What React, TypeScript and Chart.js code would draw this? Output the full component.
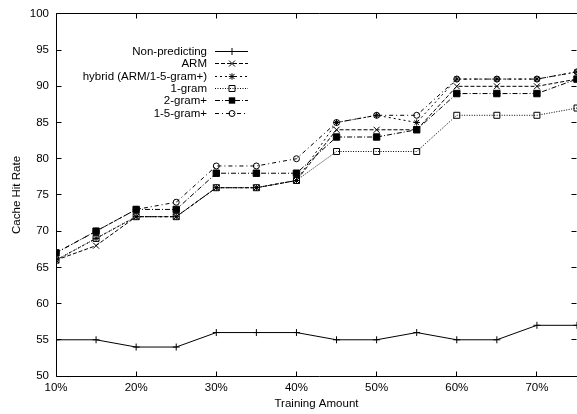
import React, { useEffect, useRef } from "react";
import { Chart, registerables } from "chart.js";

Chart.register(...registerables);

const trainingAmount = [10, 15, 20, 25, 30, 35, 40, 45, 50, 55, 60, 65, 70, 75];
const nonPredicting = [55, 55, 54, 54, 56, 56, 56, 55, 55, 56, 55, 55, 57, 57];
const arm = [66, 68, 72, 72, 76, 76, 77, 84, 84, 84, 90, 90, 90, 91];
const hybrid = [66, 69, 72, 72, 76, 76, 77, 85, 86, 85, 91, 91, 91, 92];
const oneGram = [66, 69, 72, 72, 76, 76, 77, 81, 81, 81, 86, 86, 86, 87];
const twoGramPlus = [67, 70, 73, 73, 78, 78, 78, 83, 83, 84, 89, 89, 89, 91];
const oneToFiveGramPlus = [67, 70, 73, 74, 79, 79, 80, 85, 86, 86, 91, 91, 91, 92];

const seriesNames = [
  "Non-predicting",
  "ARM",
  "hybrid (ARM/1-5-gram+)",
  "1-gram",
  "2-gram+",
  "1-5-gram+",
];
const seriesValues = [nonPredicting, arm, hybrid, oneGram, twoGramPlus, oneToFiveGramPlus];

const xTickValues = [10, 20, 30, 40, 50, 60, 70];
const yTickValues = [50, 55, 60, 65, 70, 75, 80, 85, 90, 95, 100];

const xTitle = "Training Amount";
const yTitle = "Cache Hit Rate";

const FONT = "'Liberation Sans', Arial, Helvetica, sans-serif";

type Sty = { dash: number[]; marker: string; radius: number; fill: string };
const styles: Sty[] = [
  { dash: [], marker: "plus", radius: 3.5, fill: "rgba(0,0,0,0)" },
  { dash: [4, 2], marker: "x", radius: 3, fill: "rgba(0,0,0,0)" },
  { dash: [2, 3], marker: "star", radius: 3.2, fill: "rgba(0,0,0,0)" },
  { dash: [1, 1.5], marker: "sq", radius: 3, fill: "rgba(0,0,0,0)" },
  { dash: [5, 2, 1, 2], marker: "fsq", radius: 3.2, fill: "#000" },
  { dash: [4, 3, 1, 3], marker: "circ", radius: 3, fill: "rgba(0,0,0,0)" },
];

const chartStyle: Record<string, string> = {
  plus: "cross",
  x: "crossRot",
  star: "star",
  sq: "rect",
  fsq: "rect",
  circ: "circle",
};

function drawMarker(ctx: CanvasRenderingContext2D, kind: string, x: number, y: number, r: number) {
  ctx.save();
  ctx.setLineDash([]);
  ctx.strokeStyle = "#000";
  ctx.fillStyle = "#000";
  ctx.lineWidth = 1;
  ctx.beginPath();
  if (kind === "plus") {
    ctx.moveTo(x - r, y); ctx.lineTo(x + r, y);
    ctx.moveTo(x, y - r); ctx.lineTo(x, y + r);
    ctx.stroke();
  } else if (kind === "x") {
    ctx.moveTo(x - r, y - r); ctx.lineTo(x + r, y + r);
    ctx.moveTo(x - r, y + r); ctx.lineTo(x + r, y - r);
    ctx.stroke();
  } else if (kind === "star") {
    ctx.moveTo(x - r, y); ctx.lineTo(x + r, y);
    ctx.moveTo(x, y - r); ctx.lineTo(x, y + r);
    const d = r * 0.8;
    ctx.moveTo(x - d, y - d); ctx.lineTo(x + d, y + d);
    ctx.moveTo(x - d, y + d); ctx.lineTo(x + d, y - d);
    ctx.stroke();
  } else if (kind === "sq") {
    ctx.rect(x - r, y - r, 2 * r, 2 * r);
    ctx.stroke();
  } else if (kind === "fsq") {
    ctx.rect(x - r, y - r, 2 * r, 2 * r);
    ctx.fill();
  } else if (kind === "circ") {
    ctx.arc(x, y, r, 0, Math.PI * 2);
    ctx.stroke();
  }
  ctx.restore();
}

const framePlugin = {
  id: "gnuFrame",
  afterDraw(chart: any) {
    const { ctx, chartArea: a, scales } = chart;
    const L = Math.floor(a.left) + 0.5;
    const B = Math.floor(a.bottom) + 0.5;
    const T = Math.floor(a.top) + 0.5;
    const R = Math.floor(a.right) - 0.5;
    ctx.save();
    ctx.strokeStyle = "#000";
    ctx.lineWidth = 1;
    ctx.setLineDash([]);
    ctx.beginPath();
    ctx.moveTo(L, T); ctx.lineTo(L, B); ctx.lineTo(a.right + 5, B);
    ctx.moveTo(L, T); ctx.lineTo(a.right + 5, T);
    ctx.moveTo(a.right + 0.5, T); ctx.lineTo(a.right + 0.5, B);
    const tl = 5;
    for (const v of yTickValues) {
      const py = Math.floor(scales.y.getPixelForValue(v)) + 0.5;
      ctx.moveTo(L, py); ctx.lineTo(L + tl, py);
      ctx.moveTo(R, py); ctx.lineTo(R - tl, py);
    }
    for (const v of xTickValues) {
      const px = Math.floor(scales.x.getPixelForValue(v)) + 0.5;
      ctx.moveTo(px, B); ctx.lineTo(px, B - tl);
      ctx.moveTo(px, T); ctx.lineTo(px, T + tl);
    }
    ctx.stroke();

    // legend
    const textRight = 207;
    const x0 = 215;
    const x1 = 248;
    const xm = 232;
    const y0 = 51;
    const dy = 12.3;
    ctx.font = `11.5px ${FONT}`;
    ctx.textAlign = "right";
    ctx.textBaseline = "middle";
    ctx.fillStyle = "#000";
    seriesNames.forEach((name, i) => {
      const y = Math.round(y0 + dy * i) + 0.5;
      ctx.fillText(name, textRight, y);
      ctx.save();
      ctx.setLineDash(styles[i].dash);
      ctx.beginPath();
      ctx.moveTo(x0, y);
      ctx.lineTo(x1, y);
      ctx.stroke();
      ctx.restore();
      drawMarker(ctx, styles[i].marker, xm, y, styles[i].radius);
    });
    ctx.restore();
  },
};

export default function App() {
  const ref = useRef<HTMLCanvasElement | null>(null);

  useEffect(() => {
    if (!ref.current) return;
    Chart.defaults.font.family = FONT;
    Chart.defaults.color = "#000";
    const datasets = seriesNames.map((name, i) => ({
      label: name,
      data: trainingAmount.map((x, j) => ({ x, y: seriesValues[i][j] })),
      borderColor: "#000",
      borderWidth: 1,
      borderDash: styles[i].dash,
      pointStyle: chartStyle[styles[i].marker] as any,
      pointRadius: styles[i].marker === "sq" || styles[i].marker === "fsq" ? styles[i].radius * 1.414 : styles[i].marker === "x" ? styles[i].radius * 1.414 : styles[i].radius,
      pointBorderColor: "#000",
      pointBackgroundColor: styles[i].fill,
      pointBorderWidth: 1,
      fill: false,
      tension: 0,
      order: -i,
    }));

    const chart = new Chart(ref.current, {
      type: "line",
      data: { datasets },
      plugins: [framePlugin],
      options: {
        animation: false,
        responsive: false,
        maintainAspectRatio: false,
        layout: { padding: { left: 0, right: 23, top: 9, bottom: 0 } },
        plugins: {
          legend: { display: false },
          tooltip: { enabled: false },
        },
        scales: {
          x: {
            type: "linear",
            min: 10,
            max: 75,
            afterBuildTicks: (scale: any) => {
              scale.ticks = xTickValues.map((v) => ({ value: v }));
            },
            afterFit: (scale: any) => {
              scale.height = 38;
            },
            grid: { display: false, drawTicks: false },
            border: { display: false },
            ticks: {
              font: { size: 11.5 },
              padding: 5,
              maxRotation: 0,
              autoSkip: false,
              callback: (v: any) => `${v}%`,
            },
            title: {
              display: true,
              text: xTitle,
              font: { size: 11.5 },
              padding: { top: 0, bottom: 3 },
            },
          },
          y: {
            type: "linear",
            min: 50,
            max: 100,
            afterBuildTicks: (scale: any) => {
              scale.ticks = yTickValues.map((v) => ({ value: v }));
            },
            afterFit: (scale: any) => {
              scale.width = 56;
            },
            grid: { display: false, drawTicks: false },
            border: { display: false },
            ticks: { font: { size: 11.5 }, padding: 7, autoSkip: false },
            title: {
              display: true,
              text: yTitle,
              font: { size: 11.5 },
              padding: { top: 10, bottom: 0 },
            },
          },
        },
      },
    });
    return () => chart.destroy();
  }, []);

  return (
    <div
      style={{
        position: "fixed",
        left: 0,
        top: 0,
        width: 577,
        height: 414,
        overflow: "hidden",
        background: "#fff",
      }}
    >
      <canvas ref={ref} width={600} height={414} style={{ display: "block", width: 600, height: 414 }} />
    </div>
  );
}
